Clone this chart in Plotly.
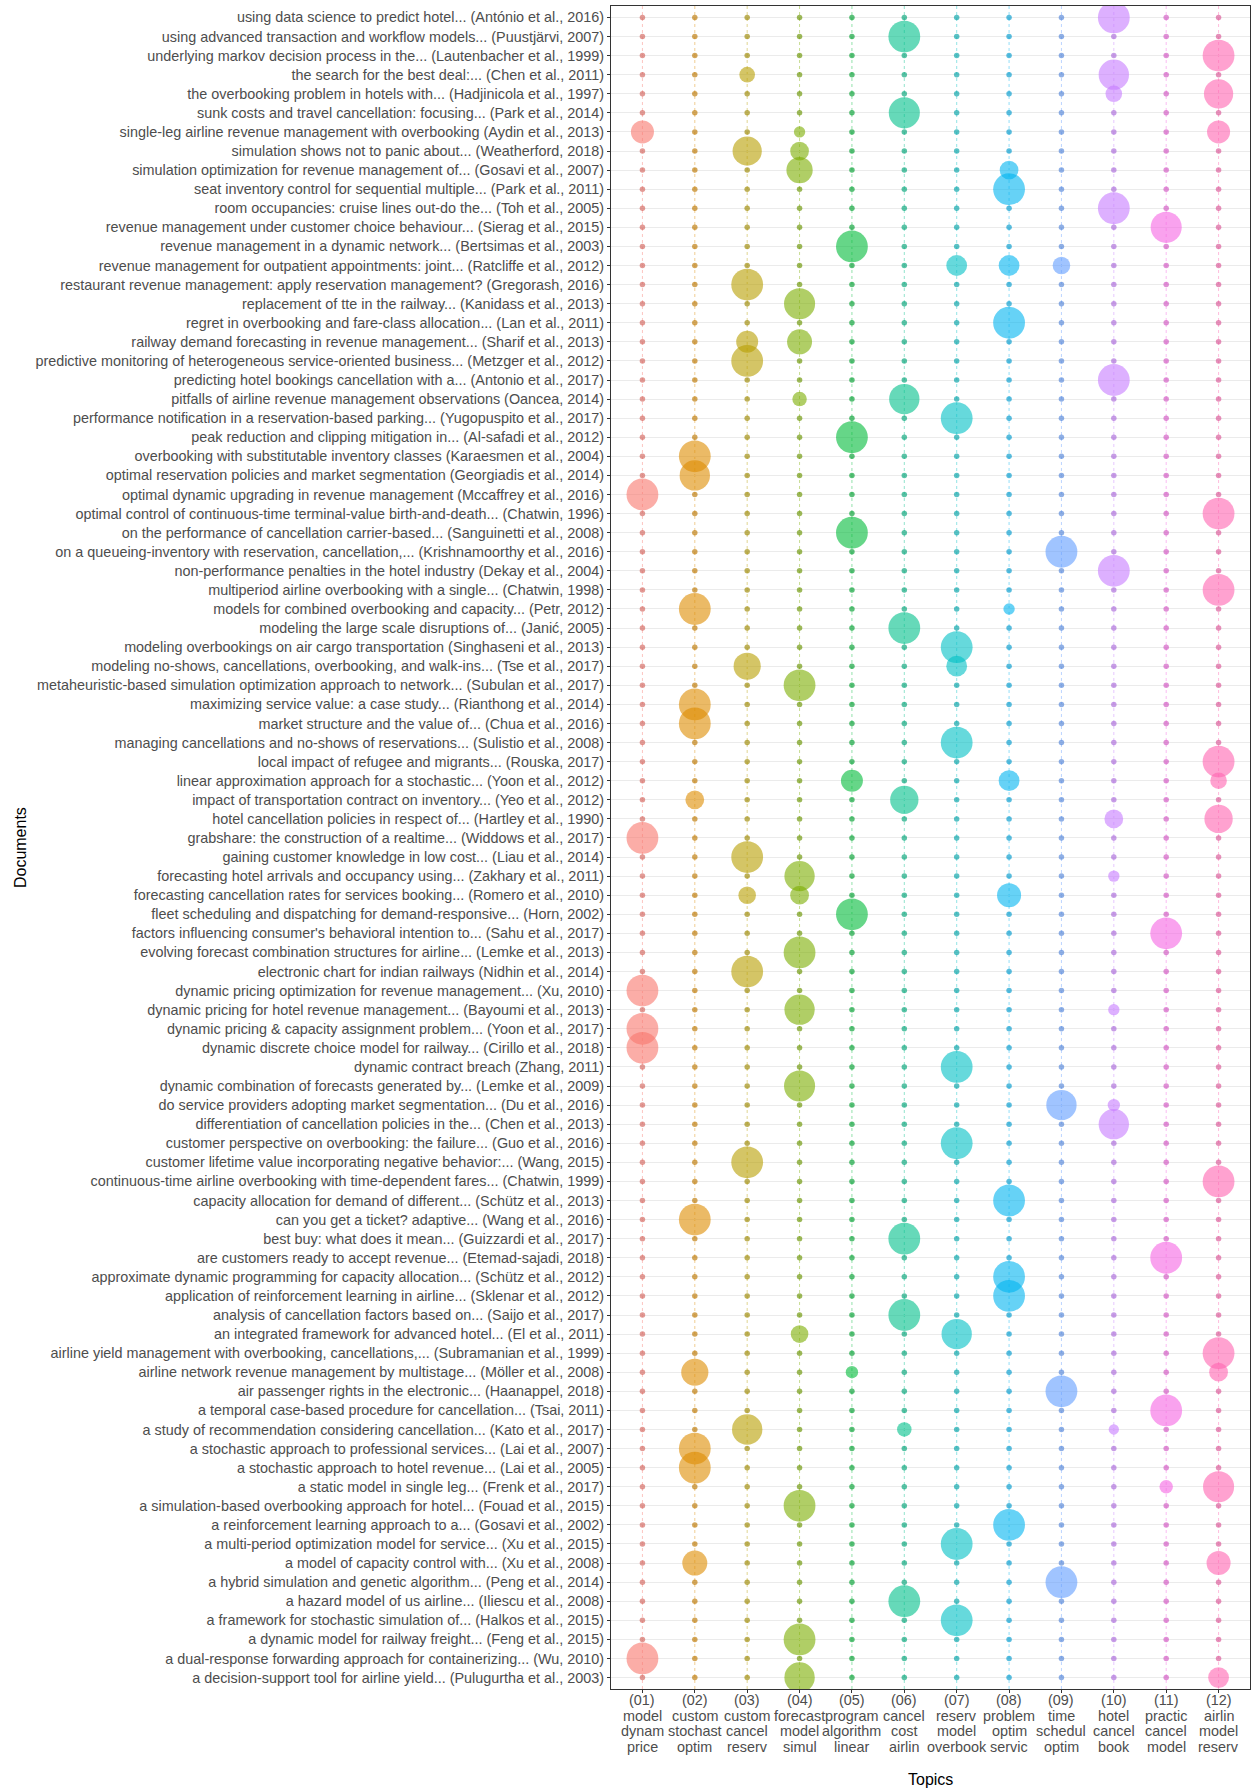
import numpy as np
import plotly.graph_objects as go

documents = [
    "using data science to predict hotel... (António et al., 2016)",
    "using advanced transaction and workflow models... (Puustjärvi, 2007)",
    "underlying markov decision process in the... (Lautenbacher et al., 1999)",
    "the search for the best deal:... (Chen et al., 2011)",
    "the overbooking problem in hotels with... (Hadjinicola et al., 1997)",
    "sunk costs and travel cancellation: focusing... (Park et al., 2014)",
    "single-leg airline revenue management with overbooking (Aydin et al., 2013)",
    "simulation shows not to panic about... (Weatherford, 2018)",
    "simulation optimization for revenue management of... (Gosavi et al., 2007)",
    "seat inventory control for sequential multiple... (Park et al., 2011)",
    "room occupancies: cruise lines out-do the... (Toh et al., 2005)",
    "revenue management under customer choice behaviour... (Sierag et al., 2015)",
    "revenue management in a dynamic network... (Bertsimas et al., 2003)",
    "revenue management for outpatient appointments: joint... (Ratcliffe et al., 2012)",
    "restaurant revenue management: apply reservation management? (Gregorash, 2016)",
    "replacement of tte in the railway... (Kanidass et al., 2013)",
    "regret in overbooking and fare-class allocation... (Lan et al., 2011)",
    "railway demand forecasting in revenue management... (Sharif et al., 2013)",
    "predictive monitoring of heterogeneous service-oriented business... (Metzger et al., 2012)",
    "predicting hotel bookings cancellation with a... (Antonio et al., 2017)",
    "pitfalls of airline revenue management observations (Oancea, 2014)",
    "performance notification in a reservation-based parking... (Yugopuspito et al., 2017)",
    "peak reduction and clipping mitigation in... (Al-safadi et al., 2012)",
    "overbooking with substitutable inventory classes (Karaesmen et al., 2004)",
    "optimal reservation policies and market segmentation (Georgiadis et al., 2014)",
    "optimal dynamic upgrading in revenue management (Mccaffrey et al., 2016)",
    "optimal control of continuous-time terminal-value birth-and-death... (Chatwin, 1996)",
    "on the performance of cancellation carrier-based... (Sanguinetti et al., 2008)",
    "on a queueing-inventory with reservation, cancellation,... (Krishnamoorthy et al., 2016)",
    "non-performance penalties in the hotel industry (Dekay et al., 2004)",
    "multiperiod airline overbooking with a single... (Chatwin, 1998)",
    "models for combined overbooking and capacity... (Petr, 2012)",
    "modeling the large scale disruptions of... (Janić, 2005)",
    "modeling overbookings on air cargo transportation (Singhaseni et al., 2013)",
    "modeling no-shows, cancellations, overbooking, and walk-ins... (Tse et al., 2017)",
    "metaheuristic-based simulation optimization approach to network... (Subulan et al., 2017)",
    "maximizing service value: a case study... (Rianthong et al., 2014)",
    "market structure and the value of... (Chua et al., 2016)",
    "managing cancellations and no-shows of reservations... (Sulistio et al., 2008)",
    "local impact of refugee and migrants... (Rouska, 2017)",
    "linear approximation approach for a stochastic... (Yoon et al., 2012)",
    "impact of transportation contract on inventory... (Yeo et al., 2012)",
    "hotel cancellation policies in respect of... (Hartley et al., 1990)",
    "grabshare: the construction of a realtime... (Widdows et al., 2017)",
    "gaining customer knowledge in low cost... (Liau et al., 2014)",
    "forecasting hotel arrivals and occupancy using... (Zakhary et al., 2011)",
    "forecasting cancellation rates for services booking... (Romero et al., 2010)",
    "fleet scheduling and dispatching for demand-responsive... (Horn, 2002)",
    "factors influencing consumer's behavioral intention to... (Sahu et al., 2017)",
    "evolving forecast combination structures for airline... (Lemke et al., 2013)",
    "electronic chart for indian railways (Nidhin et al., 2014)",
    "dynamic pricing optimization for revenue management... (Xu, 2010)",
    "dynamic pricing for hotel revenue management... (Bayoumi et al., 2013)",
    "dynamic pricing & capacity assignment problem... (Yoon et al., 2017)",
    "dynamic discrete choice model for railway... (Cirillo et al., 2018)",
    "dynamic contract breach (Zhang, 2011)",
    "dynamic combination of forecasts generated by... (Lemke et al., 2009)",
    "do service providers adopting market segmentation... (Du et al., 2016)",
    "differentiation of cancellation policies in the... (Chen et al., 2013)",
    "customer perspective on overbooking: the failure... (Guo et al., 2016)",
    "customer lifetime value incorporating negative behavior:... (Wang, 2015)",
    "continuous-time airline overbooking with time-dependent fares... (Chatwin, 1999)",
    "capacity allocation for demand of different... (Schütz et al., 2013)",
    "can you get a ticket? adaptive... (Wang et al., 2016)",
    "best buy: what does it mean... (Guizzardi et al., 2017)",
    "are customers ready to accept revenue... (Etemad-sajadi, 2018)",
    "approximate dynamic programming for capacity allocation... (Schütz et al., 2012)",
    "application of reinforcement learning in airline... (Sklenar et al., 2012)",
    "analysis of cancellation factors based on... (Saijo et al., 2017)",
    "an integrated framework for advanced hotel... (El et al., 2011)",
    "airline yield management with overbooking, cancellations,... (Subramanian et al., 1999)",
    "airline network revenue management by multistage... (Möller et al., 2008)",
    "air passenger rights in the electronic... (Haanappel, 2018)",
    "a temporal case-based procedure for cancellation... (Tsai, 2011)",
    "a study of recommendation considering cancellation... (Kato et al., 2017)",
    "a stochastic approach to professional services... (Lai et al., 2007)",
    "a stochastic approach to hotel revenue... (Lai et al., 2005)",
    "a static model in single leg... (Frenk et al., 2017)",
    "a simulation-based overbooking approach for hotel... (Fouad et al., 2015)",
    "a reinforcement learning approach to a... (Gosavi et al., 2002)",
    "a multi-period optimization model for service... (Xu et al., 2015)",
    "a model of capacity control with... (Xu et al., 2008)",
    "a hybrid simulation and genetic algorithm... (Peng et al., 2014)",
    "a hazard model of us airline... (Iliescu et al., 2008)",
    "a framework for stochastic simulation of... (Halkos et al., 2015)",
    "a dynamic model for railway freight... (Feng et al., 2015)",
    "a dual-response forwarding approach for containerizing... (Wu, 2010)",
    "a decision-support tool for airline yield... (Pulugurtha et al., 2003)",
]

topic_codes = ["(01)", "(02)", "(03)", "(04)", "(05)", "(06)",
               "(07)", "(08)", "(09)", "(10)", "(11)", "(12)"]
topic_words = [
    ["model", "dynam", "price"], ["custom", "stochast", "optim"],
    ["custom", "cancel", "reserv"], ["forecast", "model", "simul"],
    ["program", "algorithm", "linear"], ["cancel", "cost", "airlin"],
    ["reserv", "model", "overbook"], ["problem", "optim", "servic"],
    ["time", "schedul", "optim"], ["hotel", "cancel", "book"],
    ["practic", "cancel", "model"], ["airlin", "model", "reserv"],
]
topic_colors = ["#F8766D", "#DE8C00", "#B79F00", "#7CAE00", "#00BA38", "#00C08B",
                "#00BFC4", "#00B4F0", "#619CFF", "#C77CFF", "#F564E3", "#FF64B0"]

# topic probability of each document (same order as documents)
topic_01 = [0, 0, 0, 0, 0, 0, .43, 0, 0, 0, 0,
            0, 0, 0, 0, 0, 0, 0, 0, 0, 0, 0,
            0, 0, 0, .95, 0, 0, 0, 0, 0, 0, 0,
            0, 0, 0, 0, 0, 0, 0, 0, 0, 0, .95,
            0, 0, 0, 0, 0, 0, 0, .95, 0, .95, .95,
            0, 0, 0, 0, 0, 0, 0, 0, 0, 0, 0,
            0, 0, 0, 0, 0, 0, 0, 0, 0, 0, 0,
            0, 0, 0, 0, 0, 0, 0, 0, 0, .95, 0]
topic_02 = [0, 0, 0, 0, 0, 0, 0, 0, 0, 0, 0,
            0, 0, 0, 0, 0, 0, 0, 0, 0, 0, 0,
            0, .95, .85, 0, 0, 0, 0, 0, 0, .95, 0,
            0, 0, 0, .95, .95, 0, 0, 0, .25, 0, 0,
            0, 0, 0, 0, 0, 0, 0, 0, 0, 0, 0,
            0, 0, 0, 0, 0, 0, 0, 0, .95, 0, 0,
            0, 0, 0, 0, 0, .65, 0, 0, 0, .95, .95,
            0, 0, 0, 0, .53, 0, 0, 0, 0, 0, 0]
topic_03 = [0, 0, 0, .15, 0, 0, 0, .78, 0, 0, 0,
            0, 0, 0, .95, 0, 0, .38, .95, 0, 0, 0,
            0, 0, 0, 0, 0, 0, 0, 0, 0, 0, 0,
            0, .65, 0, 0, 0, 0, 0, 0, 0, 0, 0,
            .95, 0, .21, 0, 0, 0, .95, 0, 0, 0, 0,
            0, 0, 0, 0, 0, .95, 0, 0, 0, 0, 0,
            0, 0, 0, 0, 0, 0, 0, 0, .85, 0, 0,
            0, 0, 0, 0, 0, 0, 0, 0, 0, 0, 0]
topic_04 = [0, 0, 0, 0, 0, 0, .053, .25, .6, 0, 0,
            0, 0, 0, 0, .9, 0, .53, 0, 0, .12, 0,
            0, 0, 0, 0, 0, 0, 0, 0, 0, 0, 0,
            0, 0, .95, 0, 0, 0, 0, 0, 0, 0, 0,
            0, .85, .25, 0, 0, .95, 0, 0, .85, 0, 0,
            0, .9, 0, 0, 0, 0, 0, 0, 0, 0, 0,
            0, 0, 0, .21, 0, 0, 0, 0, 0, 0, 0,
            0, .95, 0, 0, 0, 0, 0, 0, .95, 0, .85]
topic_05 = [0, 0, 0, 0, 0, 0, 0, 0, 0, 0, 0,
            0, .95, 0, 0, 0, 0, 0, 0, 0, 0, 0,
            .95, 0, 0, 0, 0, .95, 0, 0, 0, 0, 0,
            0, 0, 0, 0, 0, 0, 0, .38, 0, 0, 0,
            0, 0, 0, .95, 0, 0, 0, 0, 0, 0, 0,
            0, 0, 0, 0, 0, 0, 0, 0, 0, 0, 0,
            0, 0, 0, 0, 0, .072, 0, 0, 0, 0, 0,
            0, 0, 0, 0, 0, 0, 0, 0, 0, 0, 0]
topic_06 = [0, .95, 0, 0, 0, .9, 0, 0, 0, 0, 0,
            0, 0, 0, 0, 0, 0, 0, 0, 0, .85, 0,
            0, 0, 0, 0, 0, 0, 0, 0, 0, 0, .95,
            0, 0, 0, 0, 0, 0, 0, 0, .72, 0, 0,
            0, 0, 0, 0, 0, 0, 0, 0, 0, 0, 0,
            0, 0, 0, 0, 0, 0, 0, 0, 0, .95, 0,
            0, 0, .95, 0, 0, 0, 0, 0, .12, 0, 0,
            0, 0, 0, 0, 0, 0, .95, 0, 0, 0, 0]
topic_07 = [0, 0, 0, 0, 0, 0, 0, 0, 0, 0, 0,
            0, 0, .33, 0, 0, 0, 0, 0, 0, 0, .95,
            0, 0, 0, 0, 0, 0, 0, 0, 0, 0, 0,
            .95, .33, 0, 0, 0, .95, 0, 0, 0, 0, 0,
            0, 0, 0, 0, 0, 0, 0, 0, 0, 0, 0,
            .95, 0, 0, 0, .95, 0, 0, 0, 0, 0, 0,
            0, 0, 0, .85, 0, 0, 0, 0, 0, 0, 0,
            0, 0, 0, .95, 0, 0, 0, .95, 0, 0, 0]
topic_08 = [0, 0, 0, 0, 0, 0, 0, 0, .25, .95, 0,
            0, 0, .33, 0, 0, .95, 0, 0, 0, 0, 0,
            0, 0, 0, 0, 0, 0, 0, 0, 0, .053, 0,
            0, 0, 0, 0, 0, 0, 0, .33, 0, 0, 0,
            0, 0, .48, 0, 0, 0, 0, 0, 0, 0, 0,
            0, 0, 0, 0, 0, 0, 0, .95, 0, 0, 0,
            .95, .95, 0, 0, 0, 0, 0, 0, 0, 0, 0,
            0, 0, .95, 0, 0, 0, 0, 0, 0, 0, 0]
topic_09 = [0, 0, 0, 0, 0, 0, 0, 0, 0, 0, 0,
            0, 0, .21, 0, 0, 0, 0, 0, 0, 0, 0,
            0, 0, 0, 0, 0, 0, .95, 0, 0, 0, 0,
            0, 0, 0, 0, 0, 0, 0, 0, 0, 0, 0,
            0, 0, 0, 0, 0, 0, 0, 0, 0, 0, 0,
            0, 0, .85, 0, 0, 0, 0, 0, 0, 0, 0,
            0, 0, 0, 0, 0, 0, .95, 0, 0, 0, 0,
            0, 0, 0, 0, 0, .95, 0, 0, 0, 0, 0]
topic_10 = [.95, 0, 0, .85, .18, 0, 0, 0, 0, 0, .95,
            0, 0, 0, 0, 0, 0, 0, 0, .95, 0, 0,
            0, 0, 0, 0, 0, 0, 0, .95, 0, 0, 0,
            0, 0, 0, 0, 0, 0, 0, 0, 0, .25, 0,
            0, .053, 0, 0, 0, 0, 0, 0, .053, 0, 0,
            0, 0, .072, .85, 0, 0, 0, 0, 0, 0, 0,
            0, 0, 0, 0, 0, 0, 0, 0, .037, 0, 0,
            0, 0, 0, 0, 0, 0, 0, 0, 0, 0, 0]
topic_11 = [0, 0, 0, 0, 0, 0, 0, 0, 0, 0, 0,
            .9, 0, 0, 0, 0, 0, 0, 0, 0, 0, 0,
            0, 0, 0, 0, 0, 0, 0, 0, 0, 0, 0,
            0, 0, 0, 0, 0, 0, 0, 0, 0, 0, 0,
            0, 0, 0, 0, .95, 0, 0, 0, 0, 0, 0,
            0, 0, 0, 0, 0, 0, 0, 0, 0, 0, .95,
            0, 0, 0, 0, 0, 0, 0, .95, 0, 0, 0,
            .095, 0, 0, 0, 0, 0, 0, 0, 0, 0, 0]
topic_12 = [0, 0, .95, 0, .78, 0, .43, 0, 0, 0, 0,
            0, 0, 0, 0, 0, 0, 0, 0, 0, 0, 0,
            0, 0, 0, 0, .95, 0, 0, 0, .95, 0, 0,
            0, 0, 0, 0, 0, 0, .95, .18, 0, .72, 0,
            0, 0, 0, 0, 0, 0, 0, 0, 0, 0, 0,
            0, 0, 0, 0, 0, 0, .95, 0, 0, 0, 0,
            0, 0, 0, 0, .95, .25, 0, 0, 0, 0, 0,
            .9, 0, 0, 0, .48, 0, 0, 0, 0, 0, .33]

topic_values = [topic_01, topic_02, topic_03, topic_04, topic_05, topic_06,
                topic_07, topic_08, topic_09, topic_10, topic_11, topic_12]
for tv in topic_values:
    assert len(tv) == len(documents)

FONT = "Liberation Sans, Arial, sans-serif"
TICK_GREY = "#4d4d4d"
TICK_SIZE = 14.4
DOT_SIZE = 5.5
MIN_D, SPAN_D = 5.0, 27.5   # size scale: diameter = MIN_D + SPAN_D*sqrt(p)


def darken(hex_color, f):
    h = hex_color.lstrip("#")
    r, g, b = (int(h[i:i + 2], 16) for i in (0, 2, 4))
    return "rgb(%d,%d,%d)" % (r * f, g * f, b * f)


fig = go.Figure()

# near-zero cells: small baseline dots
for code, col, vals in zip(topic_codes, topic_colors, topic_values):
    zero = [d for d, p in zip(documents, vals) if p == 0]
    fig.add_trace(go.Scatter(
        x=[code] * len(zero), y=zero, mode="markers",
        marker=dict(size=DOT_SIZE, color=darken(col, 0.85), opacity=0.65, line=dict(width=0)),
        showlegend=False, hoverinfo="skip"))

# bubbles (area-like size scale)
for code, col, vals in zip(topic_codes, topic_colors, topic_values):
    v = np.array(vals, dtype=float)
    keep = v > 0
    fig.add_trace(go.Scatter(
        x=[code] * int(keep.sum()),
        y=[d for d, k in zip(documents, keep) if k],
        mode="markers",
        marker=dict(size=MIN_D + SPAN_D * np.sqrt(v[keep]), sizemode="diameter",
                    color=col, opacity=0.6, line=dict(width=0)),
        showlegend=False, name=code))

# dotted vertical guide per topic
for i, col in enumerate(topic_colors):
    fig.add_shape(type="line", xref="x", yref="paper", x0=i, x1=i, y0=0, y1=1,
                  line=dict(color=col, width=1, dash="dot"), opacity=0.42, layer="below")

# multi-line topic labels under the x axis (tight line spacing as in reference)
annotations = []
for code, words in zip(topic_codes, topic_words):
    for j, line in enumerate([code] + words):
        annotations.append(dict(
            text=line, xref="x", yref="paper", x=code, y=0, yshift=-(11 + 15.6 * j),
            showarrow=False, xanchor="center", yanchor="middle",
            font=dict(size=TICK_SIZE, color=TICK_GREY, family=FONT)))

annotations += [
    dict(text="Documents", xref="paper", yref="paper", x=-0.924, y=0.5,
         textangle=-90, showarrow=False, xanchor="center", yanchor="middle",
         font=dict(size=16, color="black", family=FONT)),
    dict(text="Topics", xref="paper", yref="paper", x=0.5, y=-0.0535,
         showarrow=False, xanchor="center", yanchor="middle",
         font=dict(size=16, color="black", family=FONT)),
]

n = len(documents)

fig.update_layout(
    width=1251, height=1792,
    margin=dict(l=611, r=1, t=6, b=103, autoexpand=False),
    plot_bgcolor="white", paper_bgcolor="white",
    font=dict(family=FONT, color=TICK_GREY),
    xaxis=dict(type="category", categoryorder="array", categoryarray=topic_codes,
               range=[-0.6, len(topic_codes) - 0.4], automargin=False,
               showticklabels=False,
               showgrid=False, zeroline=False,
               showline=True, mirror=True, linecolor="#333333", linewidth=1,
               ticks="outside", ticklen=3, tickcolor="#333333"),
    yaxis=dict(type="category", categoryorder="array", categoryarray=documents,
               range=[n - 0.4, -0.6], automargin=False,
               tickfont=dict(size=TICK_SIZE, color=TICK_GREY, family=FONT),
               showgrid=True, gridcolor="#ebebeb", gridwidth=1, zeroline=False,
               showline=True, mirror=True, linecolor="#333333", linewidth=1,
               ticks="outside", ticklen=3, tickcolor="#333333"),
    annotations=annotations,
)

# remove the browser's default page margin so the figure sits at the window origin
fig.write_html("out.html",
               config={"displayModeBar": False},
               post_script="document.body.style.margin='0';document.body.style.overflow='hidden';")
